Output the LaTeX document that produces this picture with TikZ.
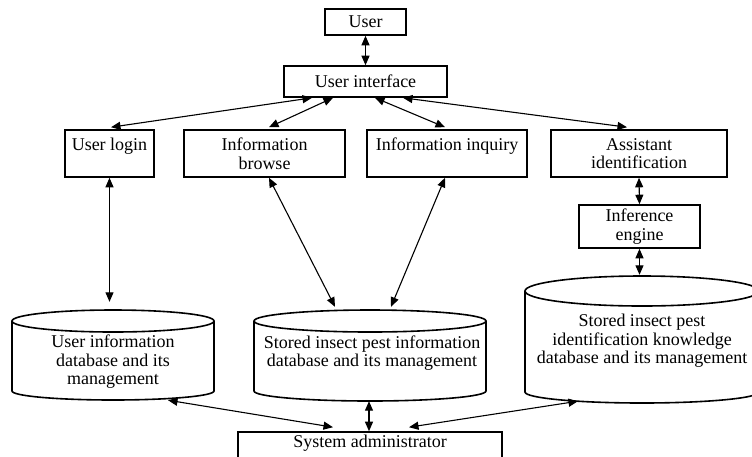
\documentclass[tikz,border=0pt]{standalone}
\usepackage{fontspec}
\setmainfont{Liberation Serif}
\usetikzlibrary{arrows.meta,calc}
\begin{document}
\begin{tikzpicture}[x=1pt,y=-1pt,
  every node/.style={font=\fontsize{18}{18.5}\selectfont, inner sep=0pt, align=center},
  box/.style={draw, line width=1.6pt, rectangle},
  dbline/.style={line width=1.6pt},
  link/.style={line width=1.1pt, {Triangle[length=9.5pt,width=8pt]}-{Triangle[length=9.5pt,width=8pt]}},
  region/.style={rectangle, minimum width=#1, inner sep=0pt}]
\useasboundingbox (0,0) rectangle (752,456);
\clip (0,0) rectangle (752,456);

% boxes
\node[box, minimum width=81pt, minimum height=26pt] (user) at (365.5,22) {User};
\node[box, minimum width=163pt, minimum height=31pt] (ui) at (365.5,81.5) {User interface};
\node[box, minimum width=89pt, minimum height=47pt] (login) at (109.5,153.5) {User login\\~};
\node[box, minimum width=161pt, minimum height=47pt] (browse) at (264.5,153.5) {Information\\browse};
\node[box, minimum width=160pt, minimum height=47pt] (inquiry) at (447,153.5) {Information inquiry\\~};
\node[box, minimum width=176pt, minimum height=47pt] (assist) at (639,153.5) {Assistant\\identification};
\node[box, minimum width=121pt, minimum height=43pt] (infer) at (639.5,226.5) {Inference\\engine};
\node[box, minimum width=264pt, minimum height=28pt] (admin) at (370,446) {};
\node (admintext) at (370,443) {System administrator};

% cylinder regions
\node[region=202pt, minimum height=90pt] (userdb) at (113,355) {};
\node[region=232pt, minimum height=91pt] (storeddb) at (370,355.5) {};
\node[region=234pt, minimum height=127pt] (knowdb) at (642,339.5) {};

% cylinders
\draw[dbline] (113,321) ellipse [x radius=101pt, y radius=11pt];
\draw[dbline] (12,321) -- (12,391) arc[start angle=180, end angle=360, x radius=101pt, y radius=9pt] -- (214,321);
\draw[dbline] (370,321) ellipse [x radius=116pt, y radius=11pt];
\draw[dbline] (254,321) -- (254,391) arc[start angle=180, end angle=360, x radius=116pt, y radius=10pt] -- (486,321);
\draw[dbline] (642,291) ellipse [x radius=117pt, y radius=15pt];
\draw[dbline] (525,291) -- (525,392) arc[start angle=180, end angle=360, x radius=117pt, y radius=11pt] -- (759,291);

% cylinder texts
\node (userdbtext) at (113,362) {User information\\database and its\\management};
\node (storeddbtext) at (372,353) {Stored insect pest information\\database and its management};
\node (knowdbtext) at (642,341) {Stored insect pest\\identification knowledge\\database and its management};

% connectors
\draw[link] (user.south) -- (ui.north);
\draw[link] ([xshift=-53.5pt]ui.south) -- ([xshift=1.5pt,yshift=2pt]login.north);
\draw[link] ([xshift=-32.5pt]ui.south) -- ([xshift=4.5pt,yshift=2pt]browse.north);
\draw[link] ([xshift=9.5pt]ui.south) -- ([xshift=-2pt,yshift=2pt]inquiry.north);
\draw[link] ([xshift=37.5pt]ui.south) -- ([xshift=-12pt,yshift=2pt]assist.north);
\draw[link] (login.south) -- ([yshift=8pt]userdb.north -| login.south);
\draw[link] ([xshift=4.5pt]browse.south) -- ([xshift=-35pt,yshift=3pt]storeddb.north);
\draw[link] ([xshift=-2pt]inquiry.south) -- ([xshift=21pt,yshift=3pt]storeddb.north);
\draw[link] (assist.south) -- (infer.north);
\draw[link] (infer.south) -- ([yshift=1pt]knowdb.north -| infer.south);
\draw[link] ([xshift=-37pt,yshift=4pt]admin.north) -- ([xshift=55pt]userdb.south);
\draw[link] ([xshift=-1pt]admin.north) -- ([xshift=-1pt]storeddb.south);
\draw[link] ([xshift=39pt,yshift=4pt]admin.north) -- ([xshift=-64pt,yshift=2pt]knowdb.south);
\end{tikzpicture}
\end{document}
